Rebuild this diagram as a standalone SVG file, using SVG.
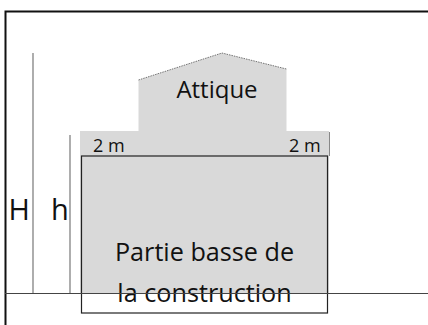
<svg xmlns="http://www.w3.org/2000/svg" width="428" height="325" viewBox="0 0 428 325">
<style>
text{font-family:"Open Sans","Noto Sans",sans-serif;fill:#111}
.dim{fill:none;stroke:#777;stroke-width:1.2}
.big{font-size:25.200px}
.lab{font-size:18px}
</style>
<rect width="428" height="325" fill="#fff"/>
<g id="batiment">
<polygon points="138.500,80 222,53 286.500,69 286.500,131 329,131 329,293 80,293 80,131 138.500,131" fill="#d9d9d9"/>
<path d="M138.500,80 L222,53 L286.500,69" fill="none" stroke="#555" stroke-width="0.8" stroke-dasharray="1.500 1"/>
<path d="M329.500,132V156" fill="none" stroke="#888" stroke-width="1"/>
</g>
<g id="partie-basse">
<rect x="81.500" y="156" width="246" height="157" fill="none" stroke="#222" stroke-width="1.200"/>
<text x="204.500" y="261" class="big" text-anchor="middle">Partie basse de</text>
<text x="204.500" y="302" class="big" text-anchor="middle">la construction</text>
</g>
<g id="attique"><text x="217" y="98" font-size="24" text-anchor="middle">Attique</text></g>
<g id="cote-gauche"><text x="93" y="151.500" class="lab">2 m</text></g>
<g id="cote-droite"><text x="289" y="151.500" class="lab">2 m</text></g>
<g id="H"><text x="8.500" y="220" font-size="29">H</text></g>
<g id="h"><text x="51" y="220" font-size="29">h</text></g>
<g id="connectors">
<path d="M5.500,325V11.500H428" fill="none" stroke="#111" stroke-width="2"/>
<path d="M5,293.500H428" fill="none" stroke="#444" stroke-width="1.200"/>
<path class="dim" d="M33,53V293"/>
<path class="dim" d="M70,135V293"/>
</g>
</svg>
